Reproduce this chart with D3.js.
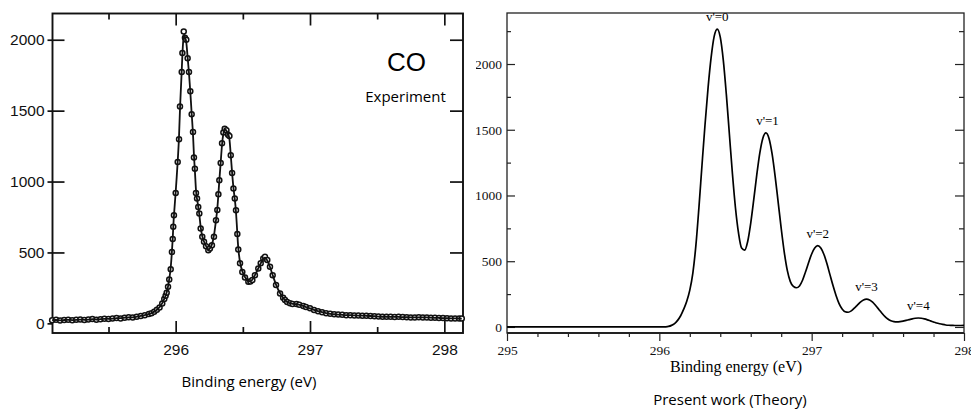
<!DOCTYPE html>
<html>
<head>
<meta charset="utf-8">
<script src="https://cdn.jsdelivr.net/npm/d3@7"></script>
<style>
  body { margin: 0; background: #fff; }
  svg { display: block; }
</style>
</head>
<body>
<script>
// ---- Experiment (left panel) ----
var expEnergy = [
    295.08, 295.11, 295.14, 295.17, 295.20, 295.23, 295.26, 295.29, 295.32, 295.35,
    295.38, 295.41, 295.44, 295.47, 295.50, 295.53, 295.56, 295.59, 295.62, 295.65,
    295.68, 295.71, 295.74, 295.77, 295.80, 295.82, 295.84, 295.86, 295.88, 295.90,
    295.915, 295.925, 295.933, 295.943, 295.952, 295.963, 295.972, 295.978, 295.982, 295.987,
    296.000, 296.015, 296.025, 296.032, 296.045, 296.050, 296.060, 296.069, 296.079, 296.089,
    296.099, 296.109, 296.119, 296.129, 296.136, 296.143, 296.151, 296.159, 296.168, 296.176,
    296.186, 296.198, 296.211, 296.226, 296.243, 296.255, 296.270, 296.285, 296.300, 296.310,
    296.318, 296.325, 296.335, 296.345, 296.355, 296.365, 296.378, 296.390, 296.400, 296.410,
    296.420, 296.430, 296.440, 296.449, 296.459, 296.466, 296.479, 296.496, 296.516, 296.541,
    296.556, 296.571, 296.590, 296.615, 296.633, 296.652, 296.665, 296.682, 296.702, 296.722,
    296.747, 296.777, 296.800, 296.814, 296.830, 296.851, 296.870, 296.900, 296.920, 296.950,
    296.970, 297.00, 297.03, 297.06, 297.09, 297.12, 297.15, 297.18, 297.21, 297.24,
    297.27, 297.30, 297.33, 297.36, 297.39, 297.42, 297.45, 297.48, 297.51, 297.54,
    297.57, 297.60, 297.63, 297.66, 297.69, 297.72, 297.75, 297.78, 297.81, 297.84,
    297.87, 297.90, 297.93, 297.96, 297.99, 298.02, 298.05, 298.08, 298.11, 298.13
];
var expCounts = [
    22, 25, 20, 24, 26, 22, 25, 28, 24, 27,
    30, 26, 29, 33, 30, 34, 38, 35, 40, 43,
    41, 47, 52, 58, 66, 72, 82, 96, 112, 140,
    172, 195, 215, 258, 310, 382, 504, 594, 681, 763,
    920, 1138, 1298, 1530, 1772, 1906, 2058, 2014, 2000, 1870,
    1772, 1636, 1474, 1349, 1169, 1091, 920, 880, 820, 775,
    669, 610, 575, 544, 516, 528, 551, 610, 727, 800,
    910, 1010, 1130, 1270, 1345, 1372, 1362, 1330, 1322, 1185,
    1061, 951, 880, 798, 630, 520, 423, 363, 324, 293,
    296, 305, 340, 387, 423, 458, 469, 446, 399, 340,
    270, 211, 180, 164, 150, 141, 137, 136, 131, 122,
    115, 106, 95, 86, 78, 72, 67, 64, 62, 60,
    58, 58, 56, 55, 54, 54, 52, 50, 48, 46,
    47, 46, 45, 46, 44, 43, 42, 42, 43, 41,
    42, 40, 39, 38, 37, 36, 35, 35, 34, 34
];
var expXMajor = [296, 297, 298];
var expXMinor = [295.5, 296.5, 297.5];
var expYTicks = [0, 500, 1000, 1500, 2000];

// ---- Theory (right panel) ----
var theoryEnergy = [
    295.00, 295.50, 296.00, 296.02, 296.04, 296.06, 296.08, 296.10, 296.12, 296.14,
    296.16, 296.18, 296.20, 296.22, 296.24, 296.26, 296.28, 296.30, 296.32, 296.34,
    296.36, 296.38, 296.40, 296.42, 296.44, 296.46, 296.48, 296.50, 296.52, 296.54,
    296.56, 296.58, 296.60, 296.62, 296.64, 296.66, 296.68, 296.70, 296.72, 296.74,
    296.76, 296.78, 296.80, 296.82, 296.84, 296.86, 296.88, 296.90, 296.92, 296.94,
    296.96, 296.98, 297.00, 297.02, 297.04, 297.06, 297.08, 297.10, 297.12, 297.14,
    297.16, 297.18, 297.20, 297.22, 297.24, 297.26, 297.28, 297.30, 297.32, 297.34,
    297.36, 297.38, 297.40, 297.42, 297.44, 297.46, 297.48, 297.50, 297.52, 297.54,
    297.56, 297.58, 297.60, 297.62, 297.64, 297.66, 297.68, 297.70, 297.72, 297.74,
    297.76, 297.78, 297.80, 297.82, 297.84, 297.86, 297.88, 297.90, 297.92, 297.94,
    297.96, 297.98, 298.00
];
var theoryIntensity = [
    0, 0, 0, 0, 1, 4, 12, 26, 50, 85,
    135, 195, 280, 410, 620, 910, 1230, 1540, 1820, 2050,
    2210, 2266, 2204, 2028, 1767, 1464, 1163, 903, 713, 600,
    585, 650, 790, 970, 1160, 1326, 1438, 1476, 1434, 1318,
    1148, 950, 750, 570, 430, 345, 308, 298, 312, 355,
    420, 490, 555, 600, 618, 600, 553, 482, 398, 315,
    240, 178, 137, 116, 112, 122, 143, 166, 189, 205,
    211, 205, 188, 163, 135, 106, 80, 60, 47, 40,
    38, 40, 44, 50, 56, 62, 66, 68, 66, 61,
    54, 46, 38, 30, 24, 19, 15, 13, 12, 11,
    11, 11, 12
];
var peakLabels = ["v'=0", "v'=1", "v'=2", "v'=3", "v'=4"];
var peakEnergy = [296.38, 296.71, 297.04, 297.36, 297.70];
var peakHeight = [2266, 1476, 618, 211, 68];
var thXMajor = [295, 296, 297, 298];
var thXMinor = [295.2, 295.4, 295.6, 295.8, 296.2, 296.4, 296.6, 296.8,
                297.2, 297.4, 297.6, 297.8];
var thYMajor = [0, 500, 1000, 1500, 2000];
var thYMinor = [250, 750, 1250, 1750, 2250];

var W = 971, H = 409;
var svg = d3.select("body").append("svg")
    .attr("width", W)
    .attr("height", H);

var fmt = d3.format("d");

// ================= left panel =================
var L = { left: 52.5, right: 463, top: 13.5, bottom: 333 };
var xL = d3.scaleLinear().domain([295.083, 298.139]).range([L.left, L.right]);
var yL = d3.scaleLinear().domain([-68, 2185]).range([L.bottom, L.top]);

var gL = svg.append("g");
var sans = "'Liberation Sans', Arial, Helvetica, sans-serif";

// bottom axis: inward ticks with labels
gL.append("g")
    .attr("transform", "translate(0," + L.bottom + ")")
    .call(d3.axisBottom(xL).tickValues(expXMajor).tickSize(-12).tickPadding(11)
        .tickFormat(fmt));
gL.append("g")
    .attr("transform", "translate(0," + L.bottom + ")")
    .call(d3.axisBottom(xL).tickValues(expXMinor).tickSize(-6).tickFormat(""));
// top axis
gL.append("g")
    .attr("transform", "translate(0," + L.top + ")")
    .call(d3.axisTop(xL).tickValues(expXMajor).tickSize(-12).tickFormat(""));
gL.append("g")
    .attr("transform", "translate(0," + L.top + ")")
    .call(d3.axisTop(xL).tickValues(expXMinor).tickSize(-6).tickFormat(""));
// left axis: short outward part with labels + inward part
gL.append("g")
    .attr("transform", "translate(" + L.left + ",0)")
    .call(d3.axisLeft(yL).tickValues(expYTicks).tickSize(5).tickPadding(3)
        .tickFormat(fmt));
gL.append("g")
    .attr("transform", "translate(" + L.left + ",0)")
    .call(d3.axisLeft(yL).tickValues(expYTicks.slice(1)).tickSize(-12).tickFormat(""));
// right axis
gL.append("g")
    .attr("transform", "translate(" + L.right + ",0)")
    .call(d3.axisRight(yL).tickValues(expYTicks.slice(1)).tickSize(-13).tickFormat(""));

gL.selectAll(".domain").remove();
gL.selectAll(".tick line").attr("stroke", "#111").attr("stroke-width", 1.7);
gL.selectAll(".tick text")
    .attr("fill", "#111")
    .style("font-family", sans)
    .style("font-size", "15.5px");

// frame
gL.append("rect")
    .attr("x", L.left)
    .attr("y", L.top)
    .attr("width", L.right - L.left)
    .attr("height", L.bottom - L.top)
    .attr("fill", "none")
    .attr("stroke", "#111")
    .attr("stroke-width", 1.9);

var expData = expEnergy.map(function (e, i) { return { e: e, c: expCounts[i] }; });

gL.selectAll("circle.pt")
    .data(expData)
    .enter()
    .append("circle")
    .attr("class", "pt")
    .attr("cx", function (d) { return xL(d.e); })
    .attr("cy", function (d) { return yL(d.c); })
    .attr("r", 2.5)
    .attr("fill", "#fff")
    .attr("stroke", "#111")
    .attr("stroke-width", 1.5);

var lineL = d3.line()
    .x(function (d) { return xL(d.e); })
    .y(function (d) { return yL(d.c); })
    .curve(d3.curveBasis);

gL.append("path")
    .datum(expData)
    .attr("d", lineL)
    .attr("fill", "none")
    .attr("stroke", "#111")
    .attr("stroke-width", 1.8);

gL.append("text")
    .attr("x", 406.5)
    .attr("y", 70.5)
    .attr("text-anchor", "middle")
    .style("font-family", sans)
    .style("font-size", "26px")
    .text("CO");

gL.append("text")
    .attr("x", 405.5)
    .attr("y", 102)
    .attr("text-anchor", "middle")
    .style("font-family", "'Open Sans', sans-serif")
    .style("font-size", "15px")
    .text("Experiment");

gL.append("text")
    .attr("x", 249)
    .attr("y", 386.5)
    .attr("text-anchor", "middle")
    .style("font-family", "'Open Sans', sans-serif")
    .style("font-size", "15px")
    .text("Binding energy (eV)");

// ================= right panel =================
var R = { left: 507, right: 964, top: 13, bottom: 333 };
var xR = d3.scaleLinear().domain([295, 298]).range([R.left, R.right]);
var yR = d3.scaleLinear().domain([-46, 2388]).range([R.bottom, R.top]);

svg.append("clipPath")
    .attr("id", "clipR")
    .append("rect")
    .attr("x", 476).attr("y", 0)
    .attr("width", W - 476).attr("height", H);

var gR = svg.append("g").attr("clip-path", "url(#clipR)");
var serif = "'Liberation Serif', 'Times New Roman', serif";

gR.append("g")
    .attr("transform", "translate(0," + R.bottom + ")")
    .call(d3.axisBottom(xR).tickValues(thXMajor).tickSize(8).tickPadding(4.5)
        .tickFormat(fmt));
gR.append("g")
    .attr("transform", "translate(0," + R.bottom + ")")
    .call(d3.axisBottom(xR).tickValues(thXMinor).tickSize(4).tickFormat(""));
gR.append("g")
    .attr("transform", "translate(" + R.left + ",0)")
    .call(d3.axisLeft(yR).tickValues(thYMajor).tickSize(-8).tickPadding(5)
        .tickFormat(fmt));
gR.append("g")
    .attr("transform", "translate(" + R.left + ",0)")
    .call(d3.axisLeft(yR).tickValues(thYMinor).tickSize(-4).tickFormat(""));
gR.append("g")
    .attr("transform", "translate(" + R.right + ",0)")
    .call(d3.axisRight(yR).tickValues(thYMajor).tickSize(-9).tickFormat(""));
gR.append("g")
    .attr("transform", "translate(" + R.right + ",0)")
    .call(d3.axisRight(yR).tickValues(thYMinor).tickSize(-5).tickFormat(""));

gR.selectAll(".domain").remove();
gR.selectAll(".tick line").attr("stroke", "#222").attr("stroke-width", 1.2);
gR.selectAll(".tick text")
    .attr("fill", "#111")
    .style("font-family", serif)
    .style("font-size", "13.5px");

gR.append("rect")
    .attr("x", R.left)
    .attr("y", R.top)
    .attr("width", R.right - R.left)
    .attr("height", R.bottom - R.top)
    .attr("fill", "none")
    .attr("stroke", "#222")
    .attr("stroke-width", 1.3);
gR.append("line")
    .attr("x1", R.left).attr("x2", R.right)
    .attr("y1", R.bottom).attr("y2", R.bottom)
    .attr("stroke", "#222")
    .attr("stroke-width", 2);

var thData = theoryEnergy.map(function (e, i) { return { e: e, v: theoryIntensity[i] }; });

var lineR = d3.line()
    .x(function (d) { return xR(d.e); })
    .y(function (d) { return yR(d.v); })
    .curve(d3.curveMonotoneX);

gR.append("path")
    .datum(thData)
    .attr("d", lineR)
    .attr("fill", "none")
    .attr("stroke", "#000")
    .attr("stroke-width", 1.7);

gR.selectAll("text.peak")
    .data(peakLabels)
    .enter()
    .append("text")
    .attr("class", "peak")
    .attr("x", function (d, i) { return xR(peakEnergy[i]); })
    .attr("y", function (d, i) { return yR(peakHeight[i]) - 8; })
    .attr("text-anchor", "middle")
    .style("font-family", serif)
    .style("font-size", "13px")
    .text(function (d) { return d; });

gR.append("text")
    .attr("x", 736)
    .attr("y", 371.5)
    .attr("text-anchor", "middle")
    .style("font-family", serif)
    .style("font-size", "16px")
    .text("Binding energy (eV)");

gR.append("text")
    .attr("x", 730)
    .attr("y", 405)
    .attr("text-anchor", "middle")
    .style("font-family", "'Open Sans', sans-serif")
    .style("font-size", "15px")
    .text("Present work (Theory)");
</script>
</body>
</html>
